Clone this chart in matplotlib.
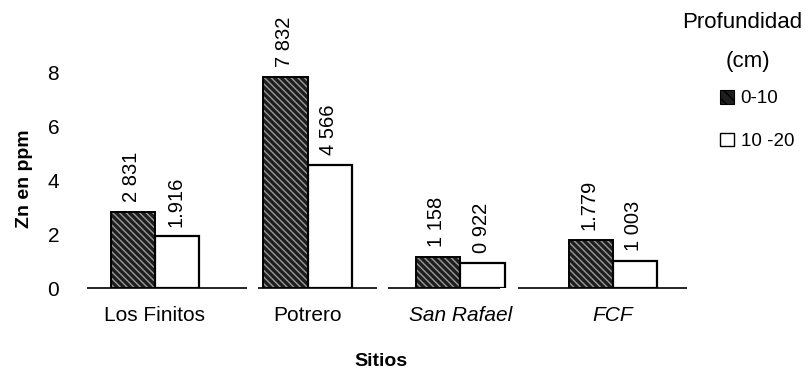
import matplotlib
matplotlib.use("Agg")
import matplotlib.pyplot as plt
from matplotlib.patches import Patch
import numpy as np

plt.rcParams['font.family'] = ['Liberation Sans', 'DejaVu Sans']

sitios = ["Los Finitos", "Potrero", "San Rafael", "FCF"]
italic_sitios = [False, False, True, True]
prof_0_10 = [2.831, 7.832, 1.158, 1.779]
prof_10_20 = [1.916, 4.566, 0.922, 1.003]
sep_0_10 = [" ", " ", " ", "."]
sep_10_20 = [".", " ", " ", " "]
yticks = [0, 2, 4, 6, 8]

fig = plt.figure(figsize=(8.08, 3.72), dpi=100)
ax = fig.add_axes([87 / 808, 1 - 288 / 372, 600 / 808, 243 / 372])

x = np.arange(len(sitios))
w = 0.29
dark = "#1e1e1e"

# dark bars: hatched fill, then outline
ax.bar(x - w / 2, prof_0_10, w, color=dark, hatch="\\\\\\\\\\", edgecolor="#9a9a9a",
       linewidth=0, zorder=2)
ax.bar(x - w / 2, prof_0_10, w, fill=False, edgecolor="black", linewidth=1.4, zorder=3)
ax.bar(x + w / 2, prof_10_20, w, color="white", edgecolor="black", linewidth=1.6, zorder=2)

def fmt(v, s):
    return f"{v:.3f}".replace(".", s)

for xi, v, s in zip(x - w / 2, prof_0_10, sep_0_10):
    ax.annotate(fmt(v, s), (xi, v), xytext=(-1, 7), textcoords="offset points",
                rotation=90, ha="center", va="bottom", fontsize=14.5)
for xi, v, s in zip(x + w / 2, prof_10_20, sep_10_20):
    ax.annotate(fmt(v, s), (xi, v), xytext=(-1, 7), textcoords="offset points",
                rotation=90, ha="center", va="bottom", fontsize=14.5)

ax.set_xlim(-0.445, 3.485)
ax.set_ylim(0, 9)
ax.set_yticks(yticks)
ax.set_yticklabels([str(t) for t in yticks], fontsize=15)
ax.set_xticks(x)
ax.set_xticklabels(sitios, fontsize=15)
for lbl, it in zip(ax.get_xticklabels(), italic_sitios):
    if it:
        lbl.set_style("italic")
ax.tick_params(axis="both", length=0)
ax.tick_params(axis="x", pad=13)
ax.tick_params(axis="y", pad=20)
for sp in ax.spines.values():
    sp.set_visible(False)

# broken baseline
segs = [(-0.445, 0.60), (0.675, 1.454), (1.526, 2.259), (2.377, 3.485)]
for a, b in segs:
    ax.plot([a, b], [0, 0], color="black", linewidth=1.2, zorder=4, clip_on=False,
            solid_capstyle="butt")

ax.set_ylabel("Zn en ppm", fontsize=14, fontweight="bold")
ax.yaxis.set_label_coords(-0.09, 0.449)
fig.text(381 / 808, 1 - 361 / 372, "Sitios", fontsize=14, fontweight="bold",
         ha="center", va="center")

# legend
fig.text(742 / 808, 1 - 22 / 372, "Profundidad", fontsize=16, ha="center", va="center")
fig.text(748 / 808, 1 - 61 / 372, "(cm)", fontsize=16, ha="center", va="center")
handles = [Patch(facecolor=dark, edgecolor="black", hatch="\\\\\\", linewidth=0.8),
           Patch(facecolor="white", edgecolor="black", linewidth=1.0)]
leg = fig.legend(handles, ["0-10", "10 -20"], loc="upper left",
                 bbox_to_anchor=(720 / 808, 1 - 90 / 372), frameon=False,
                 fontsize=13.5, handlelength=0.75, handleheight=0.75,
                 handletextpad=0.35, labelspacing=1.35, borderpad=0, borderaxespad=0)

fig.savefig("out.png", dpi=100)
